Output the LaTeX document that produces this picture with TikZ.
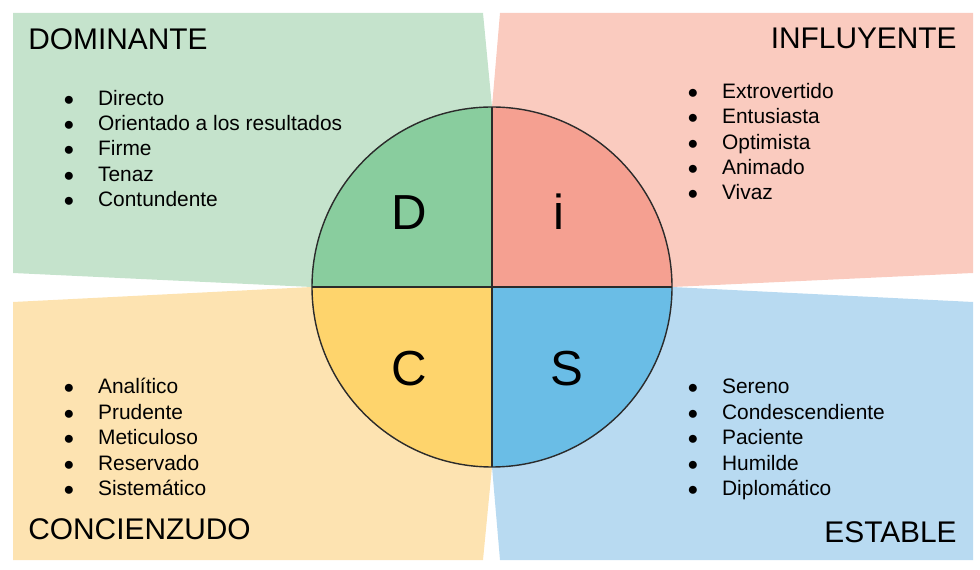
\documentclass[tikz,border=0pt]{standalone}
\usepackage{fontspec}
\setmainfont{Liberation Sans}
\definecolor{dback}{HTML}{C5E3CC}
\definecolor{dfill}{HTML}{89CD9E}
\definecolor{iback}{HTML}{FACBBF}
\definecolor{ifill}{HTML}{F5A091}
\definecolor{sback}{HTML}{B8DAF1}
\definecolor{sfill}{HTML}{6ABDE6}
\definecolor{cback}{HTML}{FDE3B1}
\definecolor{cfill}{HTML}{FED46C}
\definecolor{rim}{HTML}{2B2B2B}
\newcommand\itm{\makebox[19.8pt][l]{\fontsize{10.5}{10.5}\selectfont ●}}

\begin{document}
\begin{tikzpicture}[x=0.02cm, y=-0.02cm,
	title/.style={font=\fontsize{17}{17}\selectfont, inner sep=0pt},
	item/.style={font=\fontsize{11.9}{14}\selectfont, inner sep=0pt, anchor=base west},
	letter/.style={font=\fontsize{28}{28}\selectfont, inner sep=0pt, anchor=base},
	rimline/.style={draw=rim, line width=0.8pt}]
			%%%%% PANELS %%%%%
			\useasboundingbox (0, 0) rectangle (980, 570);
			
			\fill[dback] (13, 13) -- (483, 13) -- (492, 107) -- (492, 287) -- (312, 287) -- (13, 273) -- cycle;
			\fill[iback] (500, 13) -- (973, 13) -- (973, 273) -- (672, 287) -- (492, 287) -- (492, 107) -- cycle;
			\fill[cback] (13, 302) -- (312, 287) -- (492, 287) -- (492, 467) -- (483, 560) -- (13, 560) -- cycle;
			\fill[sback] (672, 287) -- (973, 302) -- (973, 560) -- (500, 560) -- (492, 467) -- (492, 287) -- cycle;
			
			%%%%% CIRCLE %%%%%
			\begin{scope}
				\clip (492, 287) circle (180);
				\fill[dfill] (300, 100) rectangle (492, 287);
				\fill[ifill] (492, 100) rectangle (690, 287);
				\fill[cfill] (300, 287) rectangle (492, 480);
				\fill[sfill] (492, 287) rectangle (690, 480);
			\end{scope}
			\draw[rimline] (492, 287) circle (180);
			\draw[rimline] (312, 287) -- (672, 287);
			\draw[rimline] (492, 107) -- (492, 467);
			
			\node[letter] (qd) at (409, 230) {D};
			\node[letter] (qi) at (559, 230) {i};
			\node[letter] (qc) at (409, 386) {C};
			\node[letter] (qs) at (567, 386) {S};
			
			%%%%% TITLES %%%%%
			\node[title, anchor=base west] (dom) at (28, 50) {DOMINANTE};
			\node[title, anchor=base east] (inf) at (957, 49) {INFLUYENTE};
			\node[title, anchor=base west] (con) at (28, 540) {CONCIENZUDO};
			\node[title, anchor=base east] (est) at (957, 542) {ESTABLE};
			
			%%%%% LISTS %%%%%
			\node[item] (d1) at (63, 106) {\itm Directo};
			\node[item] (d2) at (63, 131) {\itm Orientado a los resultados};
			\node[item] (d3) at (63, 156) {\itm Firme};
			\node[item] (d4) at (63, 181.5) {\itm Tenaz};
			\node[item] (d5) at (63, 207) {\itm Contundente};
			
			\node[item] (i1) at (687, 99) {\itm Extrovertido};
			\node[item] (i2) at (687, 124) {\itm Entusiasta};
			\node[item] (i3) at (687, 149.5) {\itm Optimista};
			\node[item] (i4) at (687, 175) {\itm Animado};
			\node[item] (i5) at (687, 200) {\itm Vivaz};
			
			\node[item] (c1) at (63, 394) {\itm Analítico};
			\node[item] (c2) at (63, 419.5) {\itm Prudente};
			\node[item] (c3) at (63, 445) {\itm Meticuloso};
			\node[item] (c4) at (63, 470.5) {\itm Reservado};
			\node[item] (c5) at (63, 496) {\itm Sistemático};
			
			\node[item] (s1) at (687, 394) {\itm Sereno};
			\node[item] (s2) at (687, 419.5) {\itm Condescendiente};
			\node[item] (s3) at (687, 445) {\itm Paciente};
			\node[item] (s4) at (687, 470.5) {\itm Humilde};
			\node[item] (s5) at (687, 496) {\itm Diplomático};
			
			%%%%% END %%%%%
\end{tikzpicture}
\end{document}
